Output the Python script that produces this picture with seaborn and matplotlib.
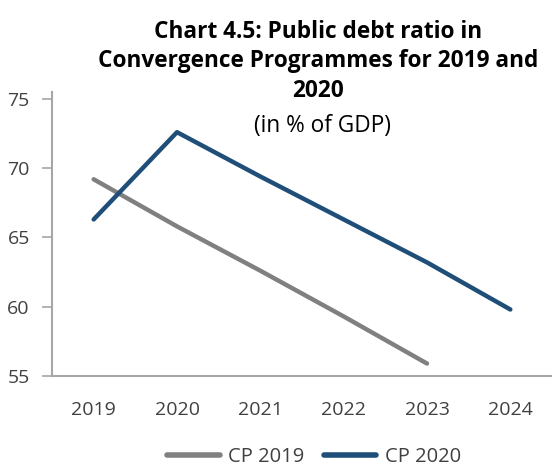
import matplotlib
matplotlib.use("Agg")
import matplotlib.pyplot as plt
import seaborn as sns
import pandas as pd
from matplotlib.lines import Line2D

years = ["2019", "2020", "2021", "2022", "2023", "2024"]
cp2019 = [69.2, 65.8, 62.6, 59.3, 55.9, None]
cp2020 = [66.3, 72.6, 69.4, 66.3, 63.2, 59.8]
series_names = ["CP 2019", "CP 2020"]
colors = ["#808080", "#1F4E79"]

sns.set_theme(style="white")
plt.rcParams["font.family"] = ["Open Sans", "DejaVu Sans"]

rows = []
for name, vals in zip(series_names, [cp2019, cp2020]):
    for yr, v in zip(years, vals):
        if v is not None:
            rows.append({"year": yr, "value": v, "series": name})
df = pd.DataFrame(rows)

fig = plt.figure(figsize=(5.52, 4.68), dpi=100)
ax = fig.add_axes([52 / 552, (468 - 376) / 468, 500 / 552, (376 - 92) / 468])

sns.lineplot(data=df, x="year", y="value", hue="series", palette=colors,
             hue_order=series_names, linewidth=3.2, ax=ax, sort=False,
             solid_capstyle="round", legend=False)

ax.set_xlim(-0.5, 5.5)
ax.set_ylim(55, 75.5)
ax.set_yticks([55, 60, 65, 70, 75])
ax.set_xlabel("")
ax.set_ylabel("")

text_color = "#404040"
spine_color = "#A6A6A6"
for side in ["top", "right"]:
    ax.spines[side].set_visible(False)
for side in ["left", "bottom"]:
    ax.spines[side].set_color(spine_color)
    ax.spines[side].set_linewidth(1.5)
ax.tick_params(axis="y", length=7, width=1.2, color=spine_color, labelsize=14,
               labelcolor=text_color, pad=9, left=True)
ax.tick_params(axis="x", length=0, labelsize=14, labelcolor=text_color, pad=18)

handles = [Line2D([], [], color=c, linewidth=4, solid_capstyle="round") for c in colors]
fig.legend(handles, series_names, loc="center", bbox_to_anchor=(314 / 552, 1 - 457 / 468),
           ncol=2, frameon=False, fontsize=14.5, handlelength=2.6, handletextpad=0.4,
           columnspacing=1.0, labelcolor=text_color)

fig.text(318 / 552, 1 - 20 / 468,
         "Chart 4.5: Public debt ratio in\nConvergence Programmes for 2019 and\n2020",
         ha="center", va="top", fontsize=16.3, fontweight="bold", color="black",
         linespacing=1.3)
fig.text(322 / 552, 1 - 126 / 468, "(in % of GDP)", ha="center", va="center",
         fontsize=16.3, color="black")

fig.savefig("out.png", dpi=100)
